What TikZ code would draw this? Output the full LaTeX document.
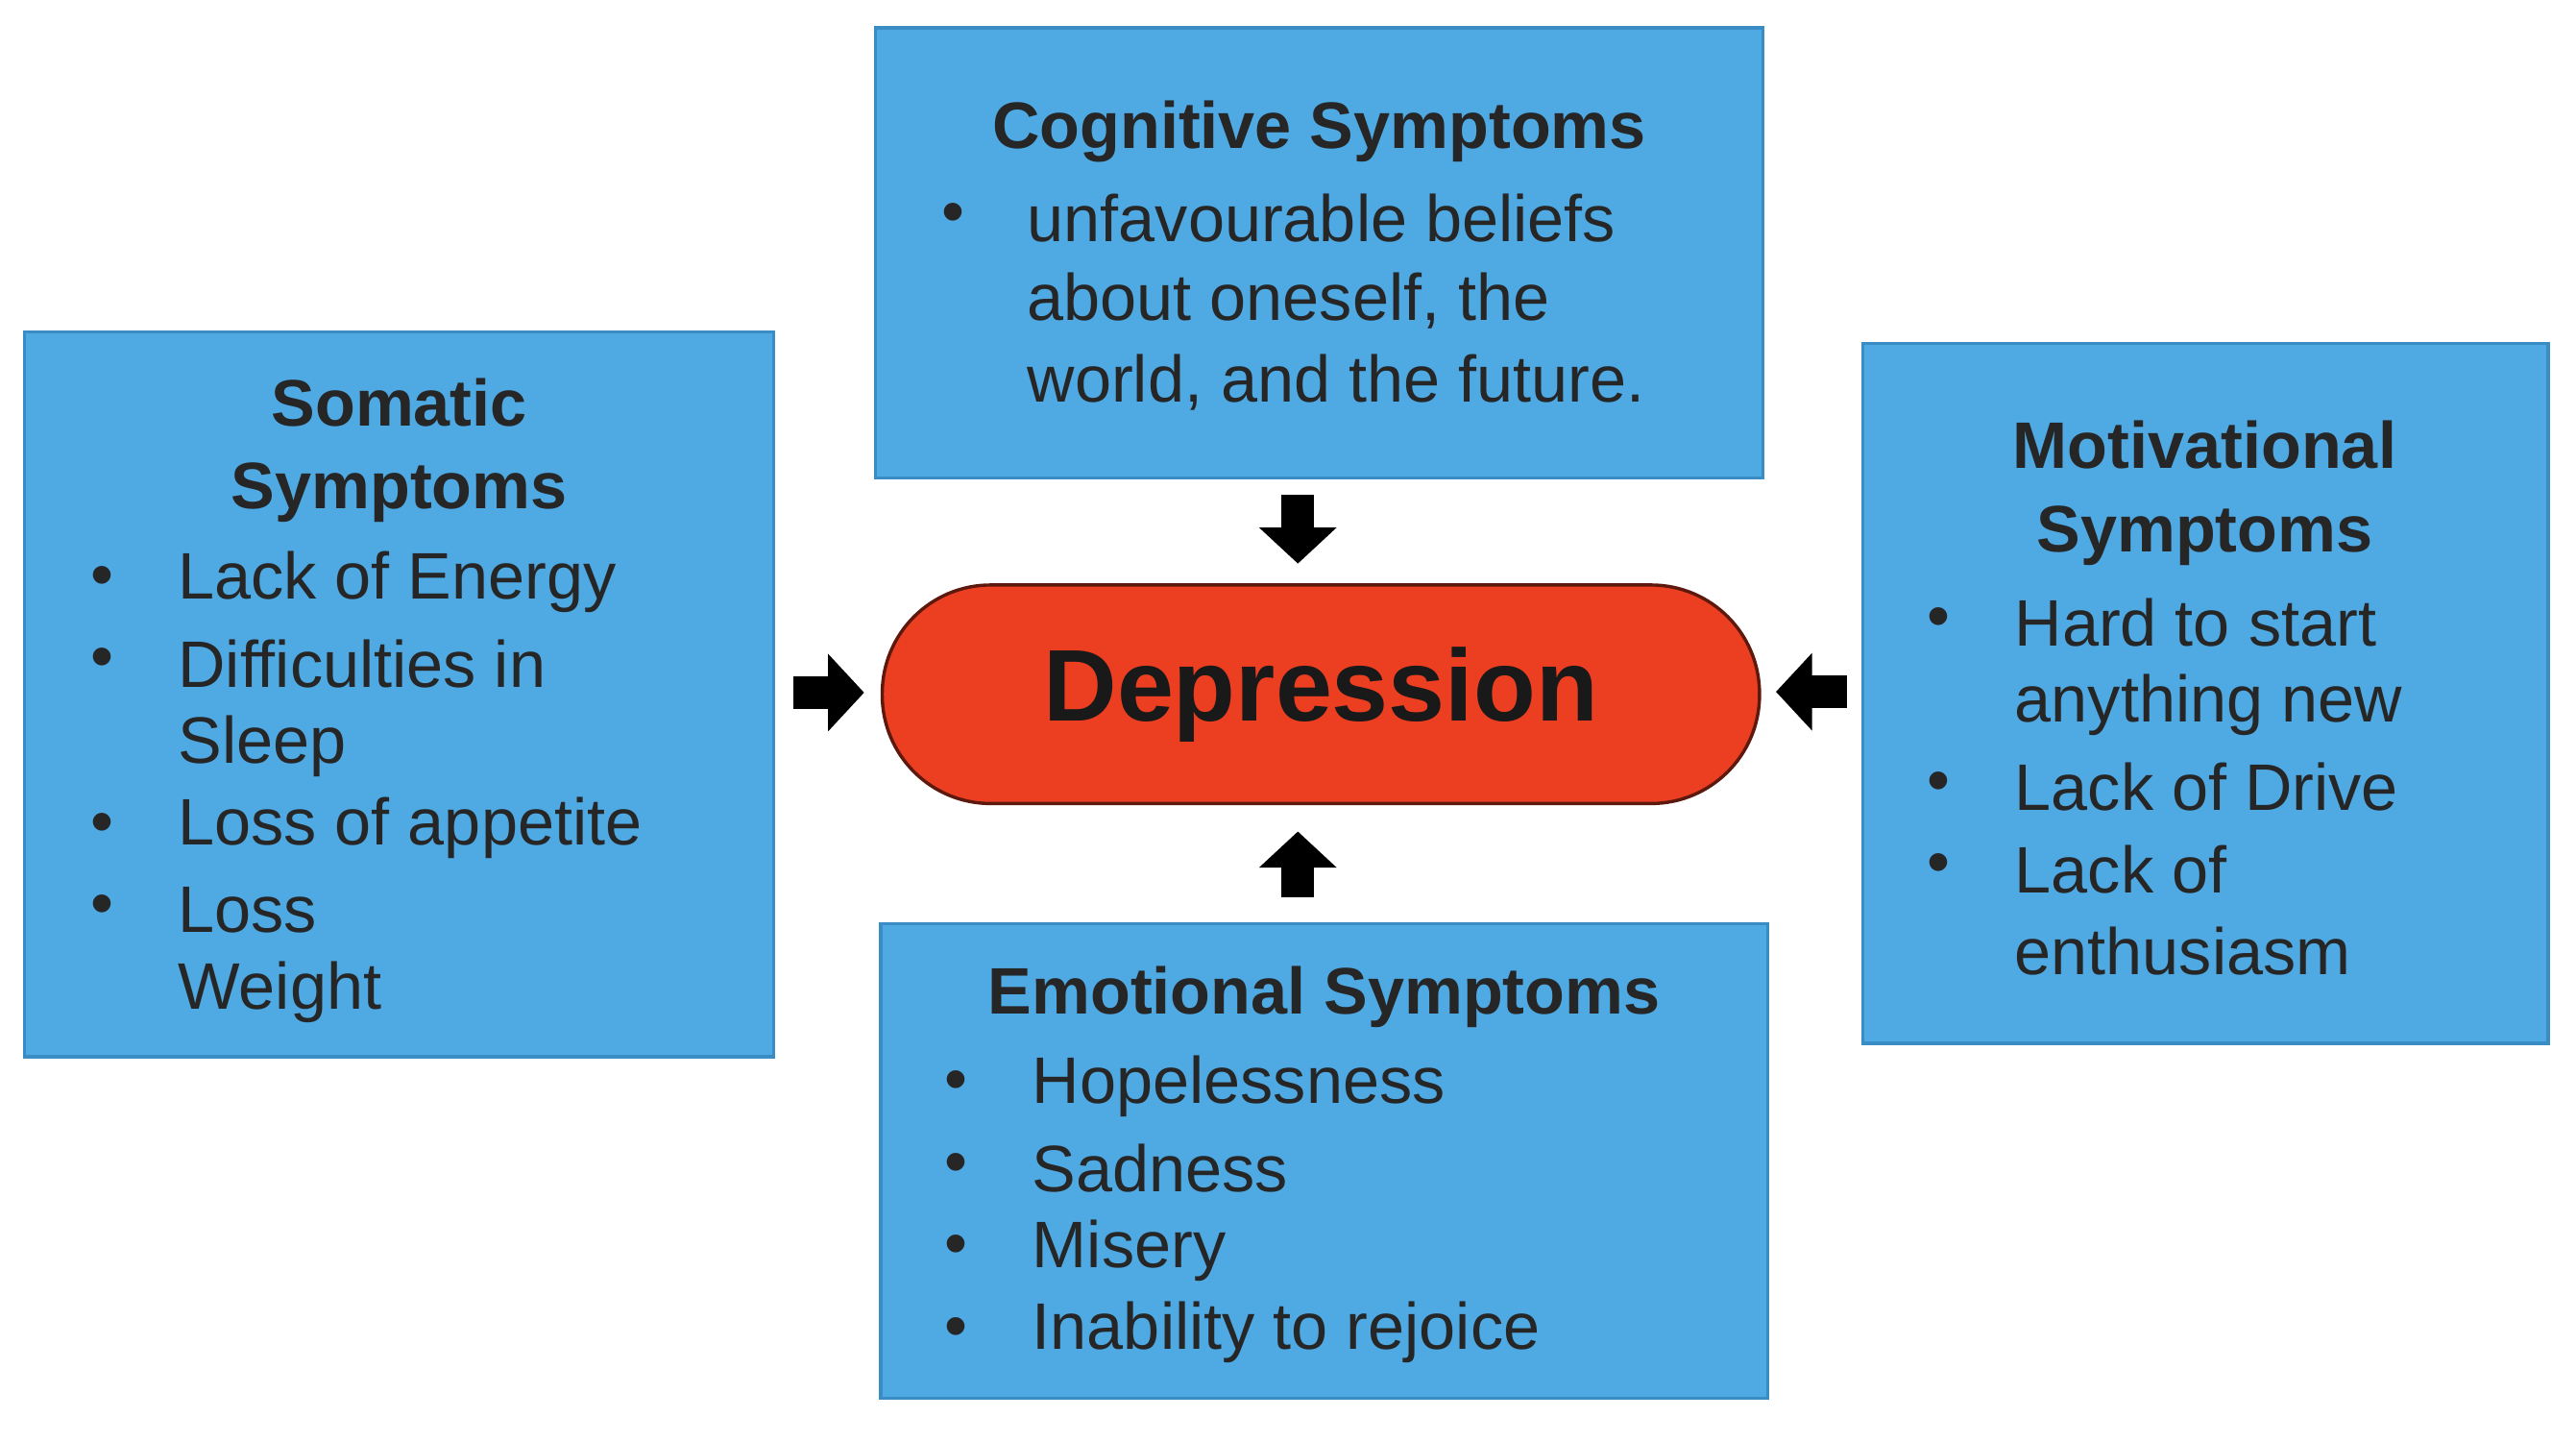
\documentclass[tikz,border=0pt]{standalone}
\usepackage{fontspec}
\setmainfont{Liberation Sans}
\usetikzlibrary{arrows.meta}
\definecolor{boxblue}{HTML}{4FA9E2}
\definecolor{boxline}{HTML}{3A8CC4}
\definecolor{depred}{HTML}{EC3F22}
\begin{document}
\begin{tikzpicture}[x=0.5pt,y=-0.5pt,
  box/.style={draw=boxline,line width=1pt,fill=boxblue,inner sep=0pt},
  ttl/.style={font=\fontsize{20}{25}\selectfont\bfseries,text=black!85,anchor=center,inner sep=0pt},
  txt/.style={font=\fontsize{20}{25}\selectfont,text=black!85,anchor=west,inner sep=0pt},
  bul/.style={font=\fontsize{20}{25}\selectfont,text=black!85,anchor=center,inner sep=0pt},
  arr/.style={line width=10pt,-{Triangle[width=23pt,length=11pt]}}]
\useasboundingbox (0,0) rectangle (1568,877);
\fill[white] (0,0) rectangle (1568,877);
% boxes
\node[box,minimum width=270pt,minimum height=137pt] (cog) at (803,154) {};
\node[box,minimum width=228pt,minimum height=220.5pt] (som) at (243,422.5) {};
\node[box,minimum width=208.5pt,minimum height=213pt] (mot) at (1342.5,422) {};
\node[box,minimum width=270pt,minimum height=144.5pt] (emo) at (806,706.5) {};
\node[draw=black!60!depred,line width=1pt,fill=depred,rounded corners=33pt,minimum width=267pt,minimum height=66.5pt,inner sep=0pt,
  font=\fontsize{31}{36}\selectfont\bfseries,text=black!90] (dep) at (804,422.5) {Depression};
% arrows
\draw[arr] (cog.south) ++(-13,9) coordinate (c1) -- ++(0,42) coordinate (c2);
\draw[arr] (emo.north) ++(-16,-15) coordinate (e1) -- ++(0,-40) coordinate (e2);
\draw[arr] (som.east) ++(11,-1) coordinate (s1) -- ++(43,0) coordinate (s2);
\draw[arr] (mot.west) ++(-9,-1) coordinate (m1) -- ++(-43,0) coordinate (m2);
% cognitive text
\node[ttl] (ct) at (803,80) {Cognitive Symptoms};
\foreach \y/\t [count=\i] in {133/unfavourable beliefs,183/{about oneself, the},233/{world, and the future.}}{
  \node[txt] (cl\i) at (625,\y) {\t};}
\node[bul] (cb) at (580,133) {•};
% somatic
\node[ttl] (st1) at (243,245) {Somatic};
\node[ttl] (st2) at (243,300) {Symptoms};
\foreach \y/\t [count=\i] in {354/Lack of Energy,404/Difficulties in,454/Sleep,504/Loss of appetite,554/Loss/gain in,604/Weight}{
  \node[txt] (sl\i) at (108,\y) {\t};}
\foreach \y [count=\i] in {354,404,504,554}{\node[bul] (sb\i) at (62,\y) {•};}
% motivational
\node[ttl] (mt1) at (1342,271) {Motivational};
\node[ttl] (mt2) at (1342,326) {Symptoms};
\foreach \y/\t [count=\i] in {379/Hard to start,429/anything new,479/Lack of Drive,529/Lack of,579/enthusiasm}{
  \node[txt] (ml\i) at (1226,\y) {\t};}
\foreach \y [count=\i] in {379,479,529}{\node[bul] (mb\i) at (1180,\y) {•};}
% emotional
\node[ttl] (et) at (806,607) {Emotional Symptoms};
\foreach \y/\t [count=\i] in {661/Hopelessness,711/Sadness,761/Misery,811/Inability to rejoice}{
  \node[txt] (el\i) at (628,\y) {\t};
  \node[bul] (eb\i) at (582,\y) {•};}
\end{tikzpicture}
\end{document}
